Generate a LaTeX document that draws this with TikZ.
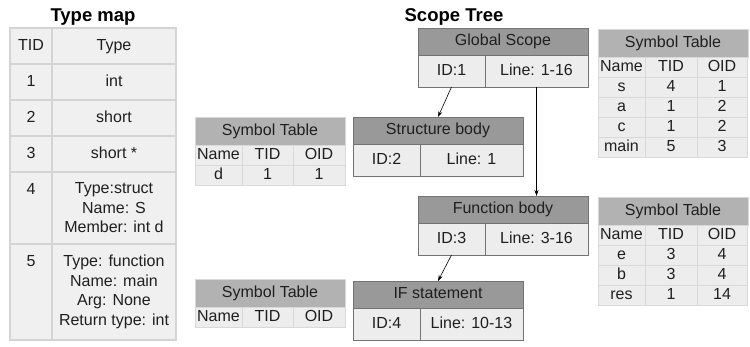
\documentclass[tikz,border=0pt]{standalone}
\usepackage{fontspec}
\setmainfont{Liberation Sans}
\usetikzlibrary{arrows.meta}

\begin{document}
\begin{tikzpicture}[
		x=1pt, y=-1pt,
		every node/.style={font=\fontsize{16}{19.5}\selectfont, text=black!88, inner sep=0pt, outer sep=0pt},
		title/.style={font=\fontsize{18.5}{21}\selectfont\bfseries, text=black},
		single/.style={text height=11pt, text depth=2.5pt},
		tmcell/.style={draw=black!17, fill=black!6, line width=1.5pt, anchor=north west},
		boxhead/.style={draw=black!55, fill=black!40, line width=0.8pt, anchor=north west, minimum width=170, minimum height=27, single},
		boxcell/.style={draw=black!55, fill=black!7, line width=0.8pt, anchor=north west, minimum height=32, single},
		sthead/.style={draw=black!15, fill=black!30, line width=0.8pt, anchor=north west, minimum width=150, minimum height=28, single},
		stcell/.style={draw=black!15, fill=black!7, line width=0.8pt, anchor=north west, minimum height=20, single},
		link/.style={-{Stealth[length=6pt,width=4pt]}, black, line width=0.6pt}
	]

		\useasboundingbox (0,0) rectangle (750,347);

		% Type map
		\node[title] (tm-title) at (93,17) {Type map};
		\foreach \tid/\ty/\top in {TID/Type/28, 1/int/64, 2/short/100, 3/short */136} {
			\node[tmcell, single, minimum width=42, minimum height=36] (tid-\tid) at (10,\top) {\tid};
			\node[tmcell, single, minimum width=124, minimum height=36] (ty-\tid) at (52,\top) {\ty};
		}
		\node[tmcell, minimum width=42, minimum height=72] (tid-4) at (10,172) {};
		\node[single] (tid-4-text) at ([yshift=-18pt]tid-4.north) {4};
		\node[tmcell, align=center, minimum width=124, minimum height=72] (ty-4) at (52,172) {Type:struct\\Name: S\\Member: int d};
		\node[tmcell, minimum width=42, minimum height=96] (tid-5) at (10,244) {};
		\node[single] (tid-5-text) at ([yshift=-18pt]tid-5.north) {5};
		\node[tmcell, align=center, minimum width=124, minimum height=96] (ty-5) at (52,244) {Type: function\\Name: main\\Arg: None\\Return type: int};

		% Scope tree
		\node[title] (st-title) at (454,17) {Scope Tree};

		\node[boxhead] (g-head) at (418,28) {Global Scope};
		\node[boxcell, minimum width=67] (g-id) at (418,55) {ID:1};
		\node[boxcell, minimum width=103] (g-line) at (485,55) {Line: 1-16};

		\node[boxhead] (s-head) at (353,117) {Structure body};
		\node[boxcell, minimum width=67] (s-id) at (353,144) {ID:2};
		\node[boxcell, minimum width=103] (s-line) at (420,144) {Line: 1};

		\node[boxhead] (f-head) at (418,196) {Function body};
		\node[boxcell, minimum width=67] (f-id) at (418,223) {ID:3};
		\node[boxcell, minimum width=103] (f-line) at (485,223) {Line: 3-16};

		\node[boxhead] (i-head) at (353,281) {IF statement};
		\node[boxcell, minimum width=67] (i-id) at (353,308) {ID:4};
		\node[boxcell, minimum width=103] (i-line) at (420,308) {Line: 10-13};

		\draw[link] (g-id.south) -- (s-head.north);
		\draw[link] (g-line.south) -- (g-line.south |- f-head.north);
		\draw[link] (f-id.south) -- (i-head.north);

		% Symbol tables
		\node[sthead] (sg-head) at (598,29) {Symbol Table};
		\foreach \n/\t/\o [count=\i] in {Name/TID/OID, s/4/1, a/1/2, c/1/2, main/5/3} {
			\node[stcell, minimum width=47] (sg-n\i) at (598,{37+20*\i}) {\n};
			\node[stcell, minimum width=52] (sg-t\i) at (645,{37+20*\i}) {\t};
			\node[stcell, minimum width=50] (sg-o\i) at (697,{37+20*\i}) {\o};
		}

		\node[sthead] (ss-head) at (195,117) {Symbol Table};
		\foreach \n/\t/\o [count=\i] in {Name/TID/OID, d/1/1} {
			\node[stcell, minimum width=47] (ss-n\i) at (195,{125+20*\i}) {\n};
			\node[stcell, minimum width=51] (ss-t\i) at (242,{125+20*\i}) {\t};
			\node[stcell, minimum width=52] (ss-o\i) at (293,{125+20*\i}) {\o};
		}

		\node[sthead] (sf-head) at (598,197) {Symbol Table};
		\foreach \n/\t/\o [count=\i] in {Name/TID/OID, e/3/4, b/3/4, res/1/14} {
			\node[stcell, minimum width=47] (sf-n\i) at (598,{205+20*\i}) {\n};
			\node[stcell, minimum width=52] (sf-t\i) at (645,{205+20*\i}) {\t};
			\node[stcell, minimum width=50] (sf-o\i) at (697,{205+20*\i}) {\o};
		}

		\node[sthead] (si-head) at (195,279) {Symbol Table};
		\node[stcell, minimum width=47] (si-n1) at (195,307) {Name};
		\node[stcell, minimum width=51] (si-t1) at (242,307) {TID};
		\node[stcell, minimum width=52] (si-o1) at (293,307) {OID};
	\end{tikzpicture}
\end{document}
